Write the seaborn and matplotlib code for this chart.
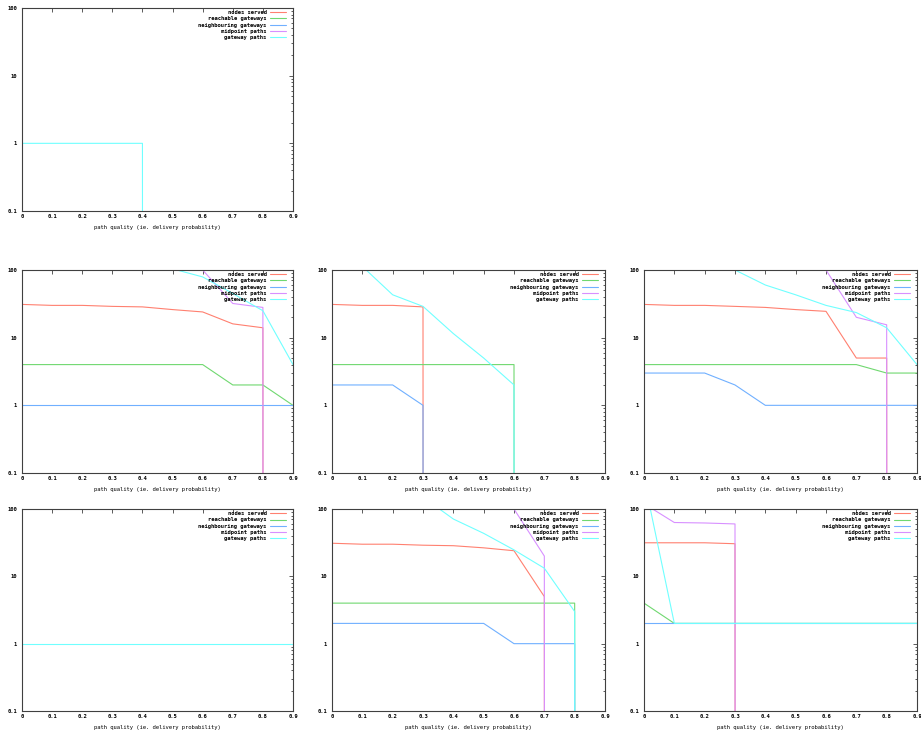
import matplotlib
matplotlib.use("Agg")
import matplotlib.pyplot as plt
import seaborn as sns
from matplotlib.ticker import LogLocator, NullFormatter

# path quality thresholds (x axis of every panel)
quality = [0.0, 0.1, 0.2, 0.3, 0.4, 0.5, 0.6, 0.7, 0.8, 0.9]
series_names = ["nodes served", "reachable gateways", "neighbouring gateways",
                "midpoint paths", "gateway paths"]
x_ticks = [0, 0.1, 0.2, 0.3, 0.4, 0.5, 0.6, 0.7, 0.8, 0.9]
x_tick_labels = ["0", "0.1", "0.2", "0.3", "0.4", "0.5", "0.6", "0.7", "0.8", "0.9"]
y_ticks = [0.1, 1, 10, 100]
y_tick_labels = ["0.1", "1", "10", "100"]

# one dict per panel (0 = nothing left)
panel_top = {
    "nodes served":          [0, 0, 0, 0, 0, 0, 0, 0, 0, 0],
    "reachable gateways":    [0, 0, 0, 0, 0, 0, 0, 0, 0, 0],
    "neighbouring gateways": [0, 0, 0, 0, 0, 0, 0, 0, 0, 0],
    "midpoint paths":        [0, 0, 0, 0, 0, 0, 0, 0, 0, 0],
    "gateway paths":         [1, 1, 1, 1, 1, 0, 0, 0, 0, 0],
}
panel_mid_a = {
    "nodes served":          [31, 30, 30, 29, 28.5, 26, 24, 16, 14, 0],
    "reachable gateways":    [4, 4, 4, 4, 4, 4, 4, 2, 2, 1],
    "neighbouring gateways": [1, 1, 1, 1, 1, 1, 1, 1, 1, 1],
    "midpoint paths":        [320, 300, 280, 250, 200, 150, 100, 32, 28, 0],
    "gateway paths":         [300, 260, 220, 180, 140, 104, 79, 45, 25, 4],
}
panel_mid_b = {
    "nodes served":          [31, 30, 30, 28.5, 0, 0, 0, 0, 0, 0],
    "reachable gateways":    [4, 4, 4, 4, 4, 4, 4, 0, 0, 0],
    "neighbouring gateways": [2, 2, 2, 1, 0, 0, 0, 0, 0, 0],
    "midpoint paths":        [0, 0, 0, 0, 0, 0, 0, 0, 0, 0],
    "gateway paths":         [250, 113, 43, 29, 11.5, 5, 2, 0, 0, 0],
}
panel_mid_c = {
    "nodes served":          [31, 30, 30, 29, 28, 26, 24.5, 5, 5, 0],
    "reachable gateways":    [4, 4, 4, 4, 4, 4, 4, 4, 3, 3],
    "neighbouring gateways": [3, 3, 3, 2, 1, 1, 1, 1, 1, 1],
    "midpoint paths":        [320, 300, 280, 250, 200, 150, 100, 20, 15.5, 0],
    "gateway paths":         [300, 250, 180, 100, 60, 43, 30, 23.5, 14, 4],
}
panel_bot_a = {
    "nodes served":          [0, 0, 0, 0, 0, 0, 0, 0, 0, 0],
    "reachable gateways":    [0, 0, 0, 0, 0, 0, 0, 0, 0, 0],
    "neighbouring gateways": [0, 0, 0, 0, 0, 0, 0, 0, 0, 0],
    "midpoint paths":        [0, 0, 0, 0, 0, 0, 0, 0, 0, 0],
    "gateway paths":         [1, 1, 1, 1, 1, 1, 1, 1, 1, 1],
}
panel_bot_b = {
    "nodes served":          [31, 30, 30, 29, 28.5, 26.5, 24, 5, 0, 0],
    "reachable gateways":    [4, 4, 4, 4, 4, 4, 4, 4, 4, 0],
    "neighbouring gateways": [2, 2, 2, 2, 2, 2, 1, 1, 1, 0],
    "midpoint paths":        [350, 320, 280, 240, 200, 150, 100, 20, 0, 0],
    "gateway paths":         [400, 300, 200, 150, 71, 43.5, 24.7, 13.2, 3, 0],
}
panel_bot_c = {
    "nodes served":          [31.5, 31.5, 31.5, 30.5, 0, 0, 0, 0, 0, 0],
    "reachable gateways":    [4, 2, 2, 2, 2, 2, 2, 2, 2, 2],
    "neighbouring gateways": [2, 2, 2, 2, 2, 2, 2, 2, 2, 2],
    "midpoint paths":        [120, 63, 62, 60, 0, 0, 0, 0, 0, 0],
    "gateway paths":         [280, 2, 2, 2, 2, 2, 2, 2, 2, 2],
}

colors = ["#ff8070", "#70d870", "#70b0ff", "#d890ff", "#70ffff"]

sns.set_theme(style="white")
plt.rcParams["font.family"] = ["DejaVu Sans Mono"]
plt.rcParams["font.weight"] = "bold"
plt.rcParams["font.size"] = 4
plt.rcParams["text.color"] = "black"
plt.rcParams["axes.labelcolor"] = "black"

W, H = 921, 736
fig = plt.figure(figsize=(W / 100, H / 100), dpi=100)


def add_panel(data, left, top, right, bottom):
    ax = fig.add_axes([left / W, 1 - bottom / H, (right - left) / W, (bottom - top) / H])
    handles = []
    for name, color in zip(series_names, colors):
        sns.lineplot(x=quality, y=data[name], ax=ax, color=color,
                     linewidth=0.8, estimator=None, sort=False, errorbar=None)
        handles.append(ax.lines[-1])
    ax.set_yscale("log")
    ax.set_xlim(0, 0.9)
    ax.set_ylim(0.1, 100)
    ax.set_xticks(x_ticks, labels=x_tick_labels)
    ax.set_yticks(y_ticks, labels=y_tick_labels)
    ax.yaxis.set_minor_locator(LogLocator(base=10, subs=range(2, 10)))
    ax.yaxis.set_minor_formatter(NullFormatter())
    ax.tick_params(which="both", direction="in", top=True, right=True,
                   color="#404040", width=0.6, labelsize=4, labelcolor="black")
    ax.tick_params(axis="x", which="major", length=3, pad=2.3)
    ax.tick_params(axis="y", which="major", length=3, pad=3.5)
    ax.tick_params(axis="y", which="minor", length=1.6)
    for s in ax.spines.values():
        s.set_color("#404040")
        s.set_linewidth(0.8)
    ax.set_xlabel("path quality (ie. delivery probability)", fontsize=4, labelpad=4.5)
    ax.set_ylabel("")
    ax.legend(handles, series_names, loc="upper right",
              bbox_to_anchor=(1 - 4.9 / (right - left), 1),
              frameon=False, markerfirst=False, fontsize=4, handlelength=2.9,
              handletextpad=0.55, labelspacing=0.22, borderpad=0, borderaxespad=0.4)
    return ax


add_panel(panel_top, 22, 8, 293, 211)
add_panel(panel_mid_a, 22, 270, 293, 473)
add_panel(panel_mid_b, 332, 270, 605, 473)
add_panel(panel_mid_c, 644, 270, 917, 473)
add_panel(panel_bot_a, 22, 509, 293, 711)
add_panel(panel_bot_b, 332, 509, 605, 711)
add_panel(panel_bot_c, 644, 509, 917, 711)

fig.savefig("out.png", dpi=100, facecolor="white")
